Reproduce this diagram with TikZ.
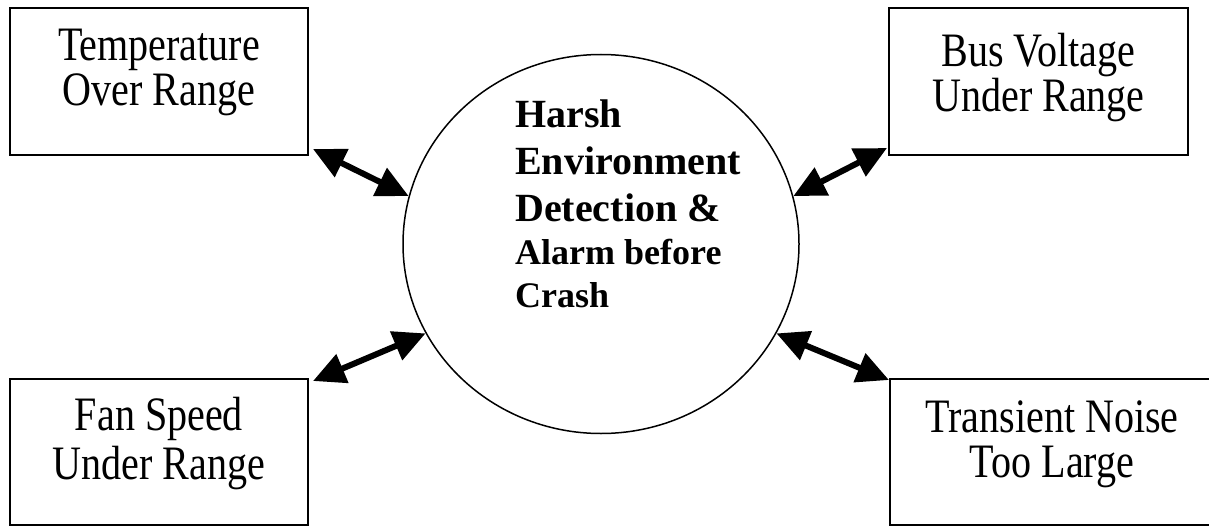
\documentclass[tikz,border=0pt]{standalone}
\usepackage{fontspec}
\setmainfont{Liberation Serif}
\newfontfamily\tallserif[FakeStretch=0.835]{Liberation Serif}
\usetikzlibrary{positioning,shapes.geometric,arrows.meta}
\newcommand{\boxfont}{\tallserif\fontsize{48}{42}\selectfont}
\newcommand{\bigbold}{\fontsize{40}{47}\selectfont\bfseries}
\newcommand{\smallbold}{\fontsize{36}{43}\selectfont\bfseries}

\begin{document}
\begin{tikzpicture}[x=1pt, y=-1pt,
  sitbox/.style={rectangle, draw, line width=2pt, minimum width=298pt, minimum height=147pt, inner sep=0pt},
  sittext/.style={inner sep=0pt, align=center, font=\boxfont},
  link/.style={line width=6pt, {Triangle[length=32pt,width=30pt]}-{Triangle[length=32pt,width=30pt]}}]

\clip (0,0) rectangle (1209,527);

% centre
\node[ellipse, draw, line width=1.5pt, minimum width=396pt, minimum height=379pt, inner sep=0pt] (harsh) at (601,244) {};
\node[inner sep=0pt, anchor=north west, align=left, font=\bigbold] (harshtext) at (515,100) {Harsh\\Environment\\Detection \&\\[-4pt]\smallbold Alarm before\\[-4pt]\smallbold Crash};

% situations
\node[sitbox] (temp) at (159,81.5) {};
\node[sittext, below=22pt of temp.north] (temptext) {Temperature\\[3pt]Over Range};

\node[sitbox, minimum width=299pt] (bus) at (1038.5,81.5) {};
\node[sittext, below=26pt of bus.north] (bustext) {Bus Voltage\\Under Range};

\node[sitbox, minimum height=146pt] (fan) at (159,452) {};
\node[sittext, below=19pt of fan.north] (fantext) {Fan Speed\\[4pt]Under Range};

\node[sitbox, minimum width=324pt, minimum height=146pt] (noise) at (1052,452) {};
\node[sittext, below=23pt of noise.north] (noisetext) {Transient Noise\\[3pt]Too Large};

% links
\draw[link] ([shift={(4pt,7pt)}]temp.south east) -- (harsh.166);
\draw[link] (harsh.14) -- ([shift={(-1pt,8pt)}]bus.south west);
\draw[link] ([shift={(4pt,-3pt)}]fan.north east) -- (harsh.207);
\draw[link] (harsh.-27) -- ([shift={(0pt,-2pt)}]noise.north west);
\end{tikzpicture}
\end{document}
